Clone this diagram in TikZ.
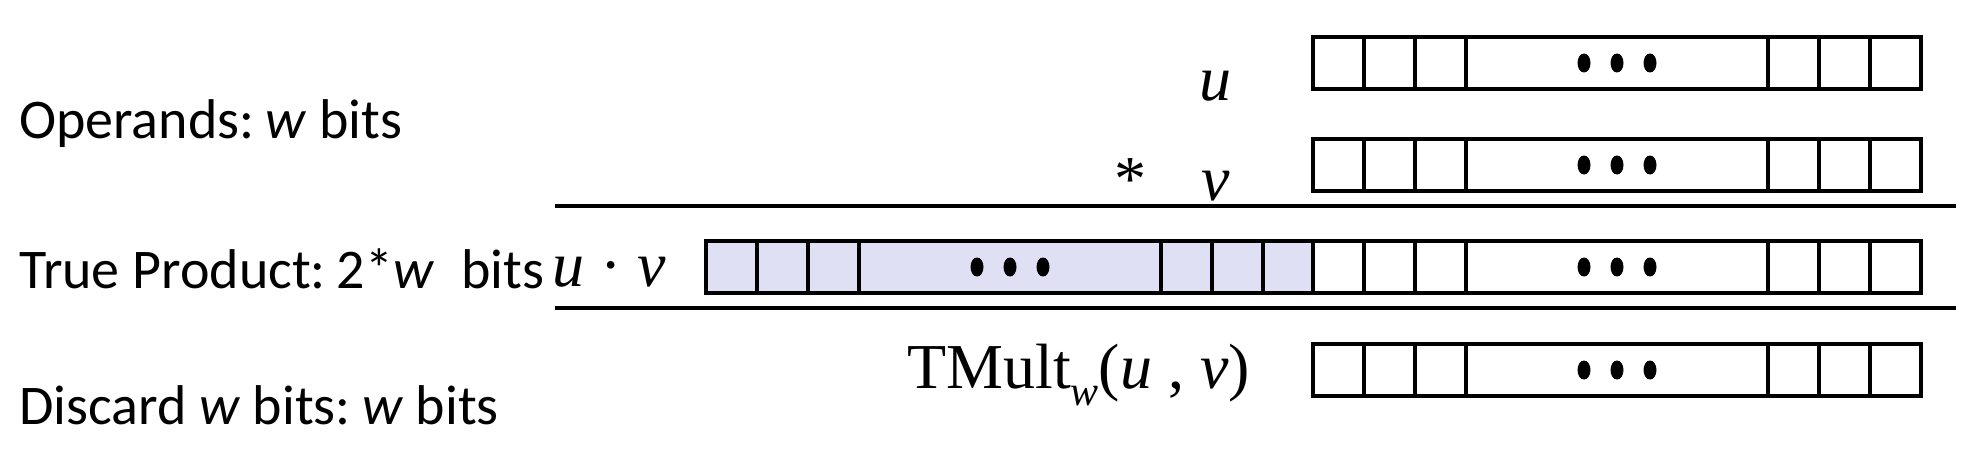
\documentclass[tikz,border=0pt]{standalone}
\usepackage{fontspec}
\setmainfont{Liberation Serif}
\newfontfamily\calfont{Carlito}
\definecolor{prodfill}{RGB}{224,224,245}
\newcommand\bitrow[4]{%
  \node[cell,fill=#4] (#1c1) at (#2,#3) {};
  \node[cell,fill=#4] (#1c2) at (#1c1.north east) {};
  \node[cell,fill=#4] (#1c3) at (#1c2.north east) {};
  \node[cell,fill=#4,minimum width=302pt] (#1m) at (#1c3.north east) {};
  \node[cell,fill=#4] (#1c4) at (#1m.north east) {};
  \node[cell,fill=#4] (#1c5) at (#1c4.north east) {};
  \node[cell,fill=#4] (#1c6) at (#1c5.north east) {};
  \fill ([xshift=-33pt]#1m.center) ellipse [x radius=6.5pt, y radius=9.5pt];
  \fill (#1m.center) ellipse [x radius=6.5pt, y radius=9.5pt];
  \fill ([xshift=33pt]#1m.center) ellipse [x radius=6.5pt, y radius=9.5pt];
}
\begin{document}
\begin{tikzpicture}[x=1pt,y=-1pt,
  cell/.style={draw=black, line width=4.5pt, minimum height=52pt, minimum width=51pt,
    inner sep=0pt, outer sep=0pt, anchor=north west},
  rule/.style={line width=4pt},
  sanslabel/.style={anchor=base west, inner sep=0pt, font=\calfont\fontsize{56}{60}\selectfont},
  serlabel/.style={anchor=base west, inner sep=0pt, font=\fontsize{64}{70}\selectfont}]
\useasboundingbox[fill=white] (0,0) rectangle (1966,460);
% rows
\bitrow{u}{1313}{37}{white}
\bitrow{v}{1313}{139}{white}
\bitrow{pl}{706}{241}{prodfill}
\bitrow{pr}{1313}{241}{white}
\bitrow{t}{1313}{344}{white}
% rules
\coordinate (l1a) at (555,206);
\coordinate (l1b) at (1956,206);
\coordinate (l2a) at (555,308);
\coordinate (l2b) at (1956,308);
\draw[rule] (l1a) -- (l1b);
\draw[rule] (l2a) -- (l2b);
% left labels
\node[sanslabel] (op) at (19,138) {Operands:\hspace{0.2em}\textit{w} bits};
\node[sanslabel] (tp) at (19,288) {True Product:\hspace{0.2em}2*\textit{w}\hspace{0.48em}bits};
\node[sanslabel] (dc) at (19,424) {Discard \textit{w} bits:\hspace{0.2em}\textit{w} bits};
% serif labels
\node[serlabel] (lu) at (1199,100) {\textit{u}};
\node[serlabel] (lstar) at (1114,200) {*};
\node[serlabel] (lv) at (1201,200) {\textit{v}};
\node[serlabel] (luv) at (552,286) {\textit{u} · \textit{v}};
\node[serlabel] (ltm) at (907,388) {TMult\raisebox{-0.28em}{\fontsize{42}{42}\selectfont\textit{w}}(\textit{u} , \textit{v})};
\end{tikzpicture}
\end{document}
